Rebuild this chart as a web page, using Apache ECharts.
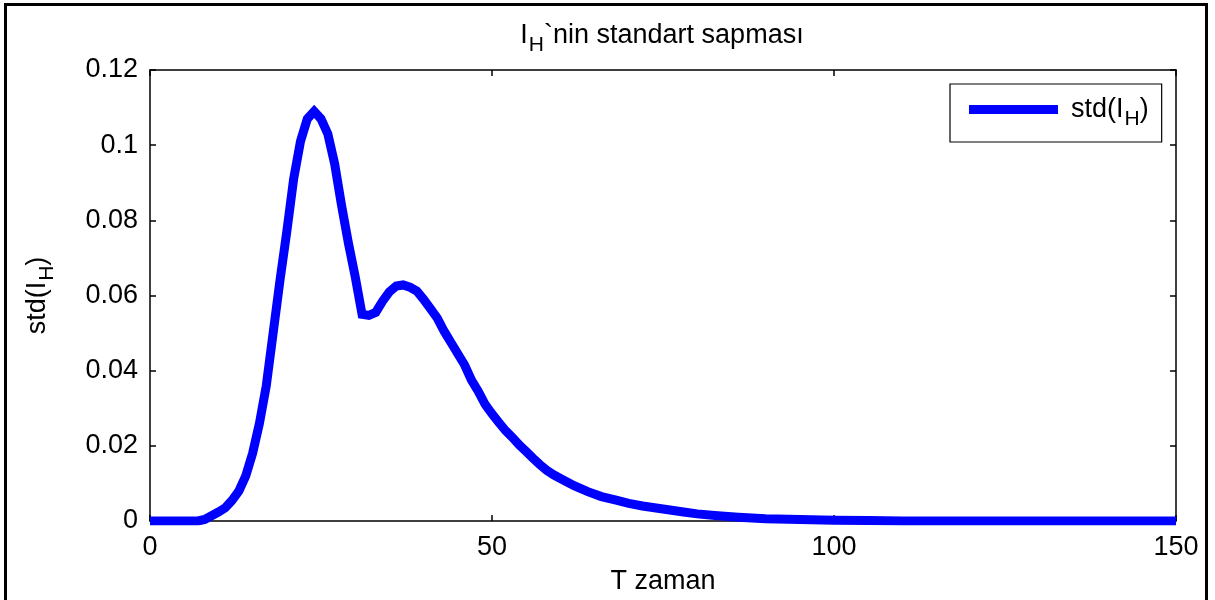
<!DOCTYPE html>
<html>
<head>
<meta charset="utf-8">
<script src="https://cdn.jsdelivr.net/npm/echarts@6/dist/echarts.min.js"></script>
<style>
html,body{margin:0;padding:0;background:#fff;}
#chart{width:1215px;height:600px;}
</style>
</head>
<body>
<div id="chart"></div>
<script>
// Data
var timeValues = [0,7,8,9,10,11,12,13,14,15,16,17,18,19,20,21,22,23,24,25,26,27,28,29,30,31,32,33,34,35,36,37,38,39,40,41,42,43,44,45,46,47,48,49,50,51,52,53,54,55,56,57,58,59,60,62,64,66,68,70,72,75,78,80,83,86,90,95,100,105,110,150];
var stdValues = [0,0,0.0004,0.0014,0.0024,0.0035,0.0055,0.008,0.012,0.018,0.026,0.036,0.05,0.064,0.077,0.091,0.101,0.107,0.109,0.107,0.103,0.095,0.084,0.074,0.065,0.055,0.0547,0.0555,0.0585,0.061,0.0625,0.0628,0.0622,0.0612,0.059,0.0565,0.054,0.0505,0.0475,0.0445,0.0415,0.0375,0.0345,0.031,0.0285,0.0262,0.024,0.0222,0.0202,0.0185,0.0167,0.015,0.0135,0.0123,0.0113,0.0094,0.0078,0.0065,0.0056,0.0047,0.004,0.0032,0.0024,0.0019,0.0014,0.001,0.0006,0.0004,0.0002,0.0001,0,0];
var xTicks = [0, 50, 100, 150];
var yTicks = [0, 0.02, 0.04, 0.06, 0.08, 0.1, 0.12];
var seriesName = 'std(I_H)';

var FONT = '"Liberation Sans", Arial, sans-serif';
var FS = 27;
var richText = {
  a: {fontSize: FS, fontFamily: FONT, fontWeight: 'normal', color: '#000'},
  s: {fontSize: 21, fontFamily: FONT, fontWeight: 'normal', color: '#000', padding: [20, 0, 0, 1]}
};

var points = timeValues.map(function (t, i) { return [t, stdValues[i]]; });

var chart = echarts.init(document.getElementById('chart'));
var axisCommon = {
  axisLine: {show: true, onZero: false, lineStyle: {color: '#000', width: 1.5}},
  axisTick: {show: true, inside: true, length: 6, lineStyle: {color: '#000', width: 1.5}},
  splitLine: {show: false}
};
chart.setOption({
  animation: false,
  backgroundColor: '#fff',
  title: {
    text: '{a|I}{s|H}{a|`nin standart sapması}',
    left: 657, top: 10, textAlign: 'center',
    textStyle: {fontWeight: 'normal', rich: richText}
  },
  legend: {
    data: [seriesName],
    left: 950, top: 84,
    padding: [12, 13, 12, 19],
    borderColor: '#000', borderWidth: 1.2, backgroundColor: '#fff',
    icon: 'rect', itemWidth: 89, itemHeight: 9,
    formatter: function () { return '{a|std(I}{s|H}{a|)}'; },
    textStyle: {padding: [0, 0, 0, 8], rich: richText}
  },
  grid: {left: 150, right: 39, top: 70, bottom: 78, containLabel: false},
  xAxis: [
    Object.assign({
      type: 'value', min: xTicks[0], max: xTicks[xTicks.length - 1], interval: 50,
      position: 'bottom',
      name: 'T zaman', nameLocation: 'middle', nameGap: 47,
      nameTextStyle: {fontSize: FS, fontFamily: FONT, color: '#000'},
      axisLabel: {fontSize: FS, fontFamily: FONT, color: '#000', margin: 13}
    }, axisCommon),
    Object.assign({
      type: 'value', min: xTicks[0], max: xTicks[xTicks.length - 1], interval: 50,
      position: 'top', axisLabel: {show: false}
    }, axisCommon)
  ],
  yAxis: [
    Object.assign({
      type: 'value', min: yTicks[0], max: yTicks[yTicks.length - 1], interval: 0.02,
      position: 'left',
      name: '{a|std(I}{s|H}{a|)}', nameLocation: 'middle', nameGap: 92,
      nameTextStyle: {rich: richText},
      axisLabel: {fontSize: FS, fontFamily: FONT, color: '#000', margin: 12,
        formatter: function (v) { return String(+v.toFixed(2)); }}
    }, axisCommon),
    Object.assign({
      type: 'value', min: yTicks[0], max: yTicks[yTicks.length - 1], interval: 0.02,
      position: 'right', axisLabel: {show: false}
    }, axisCommon)
  ],
  series: [{
    name: seriesName,
    type: 'line',
    data: points,
    xAxisIndex: 0, yAxisIndex: 0,
    showSymbol: false, symbol: 'none',
    lineStyle: {color: '#0000ff', width: 9, join: 'miter'},
    itemStyle: {color: '#0000ff'},
    clip: true
  }],
  graphic: [{
    type: 'rect', silent: true, z: 100,
    shape: {x: 5.5, y: 4.5, width: 1201, height: 610},
    style: {fill: 'none', stroke: '#000', lineWidth: 3}
  }]
});
</script>
</body>
</html>
